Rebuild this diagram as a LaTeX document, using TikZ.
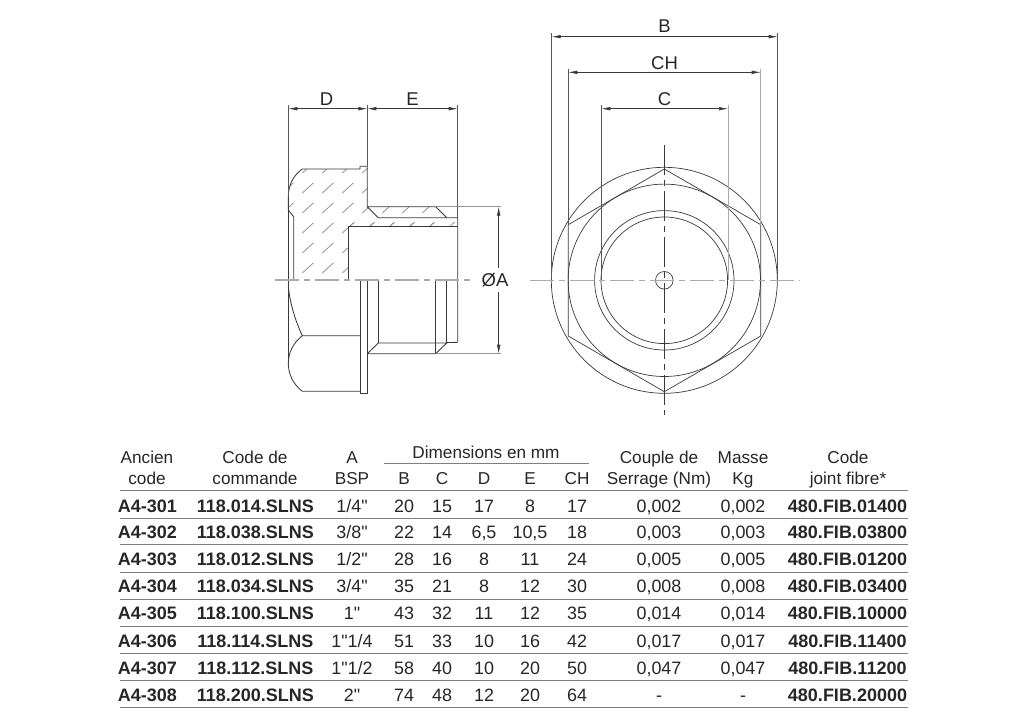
\documentclass[tikz,border=0pt]{standalone}
\usepackage{fontspec}
\setmainfont[Mapping=]{Liberation Sans}
\usetikzlibrary{arrows.meta}
\definecolor{ink}{HTML}{3A3A3A}
\definecolor{axisgray}{HTML}{ABABAB}
\definecolor{hatchgray}{HTML}{8C8C8C}
\tikzset{
  part/.style={draw=ink,line width=0.85pt},
  thin part/.style={draw=ink,line width=0.7pt},
  extline/.style={draw=ink!85,line width=0.6pt},
  dimline/.style={draw=ink,line width=0.6pt,{Latex[length=9pt,width=3.6pt]}-{Latex[length=9pt,width=3.6pt]}},
  arrowline/.style={draw=ink,line width=0.6pt,-{Latex[length=9pt,width=3.6pt]}},
  axisline/.style={draw=axisgray,line width=1.1pt,dash pattern=on 24pt off 5pt on 6pt off 5pt},
  vaxis/.style={draw=ink,line width=0.6pt,dash pattern=on 30pt off 5pt on 6pt off 5pt},
  hatchline/.style={draw=hatchgray,line width=0.75pt},
  txt/.style={font=\fontsize{17.2}{17.2}\selectfont,text=black!85,inner sep=0pt,anchor=base},
  numtxt/.style={font=\fontsize{17.9}{17.9}\selectfont,text=black!85,inner sep=0pt,anchor=base},
  dimlabel/.style={font=\fontsize{18.5}{18.5}\selectfont,text=black!85,inner sep=0pt,anchor=base},
  btxt/.style={font=\fontsize{18}{18}\selectfont\bfseries,text=black!85,inner sep=0pt,anchor=base},
  rowrule/.style={draw=ink!65,line width=1pt},
}
\newcommand\rowleft[9]{%
  \node[btxt] (a#2) at (147.5,#1) {A4-#2};
  \node[btxt] (b#2) at (255.3,#1) {#3};
  \node[numtxt] (c#2) at (352,#1) {#4};
  \node[numtxt] (d#2) at (404,#1) {#5};
  \node[numtxt] (e#2) at (442,#1) {#6};
  \node[numtxt] (f#2) at (484,#1) {#7};
  \node[numtxt] (g#2) at (530,#1) {#8};
  \node[numtxt] (h#2) at (577,#1) {#9};
}
\newcommand\rowright[5]{%
  \node[numtxt] (i#2) at (659,#1) {#3};
  \node[numtxt] (j#2) at (743,#1) {#4};
  \node[btxt] (k#2) at (847.5,#1) {#5};
}
\newcommand\qt{\char34 }
\begin{document}
\begin{tikzpicture}[x=1pt,y=-1pt]
\useasboundingbox (0,0) rectangle (1024,724);
% ---- section view: hatching
\begin{scope}
\clip (302.3,169) -- (360,169) -- (360,166.3) -- (367.3,166.3) -- (367.3,206.7) -- (435.7,206.7) -- (446.7,217.7) -- (457.7,217.7) -- (457.7,226.7) -- (348.3,226.7) -- (348.3,280) -- (293.7,280) -- (293.7,216.7) -- (288.3,210) -- (288.3,197) .. controls (288.3,184) and (294,175) .. (302.3,169) -- cycle;
\foreach \r in {173,193,213,233,253,273}
  \foreach \c in {282.3,302.3,322.3,342.3,362.3,382.3,402.3,422.3}
    \draw[hatchline] (\c,\r) -- ++(11,-10);
\foreach \c in {349.5,369.5,389.5,409.5,429.5,449.5}
  \draw[hatchline] (\c,226.7) -- ++(5,-4.6);
\end{scope}
% ---- section view: outline (upper half)
\draw[part] (293.7,280) -- (293.7,216.7) -- (288.3,210) -- (288.3,197) .. controls (288.3,184) and (294,175) .. (302.3,169) -- (360,169) -- (360,166.3) -- (367.3,166.3) -- (367.3,206.7) -- (435.7,206.7) -- (446.7,217.7) -- (457.7,217.7) -- (457.7,342.3);
\draw[part] (367.3,206.7) -- (378.3,217.7) -- (446.7,217.7);
\draw[part] (348.3,280) -- (348.3,226.7) -- (457.7,226.7);
% ---- lower half
\draw[part] (288.3,197) -- (288.3,363.3);
\draw[part] (288.3,286.7) .. controls (290,303) and (295,320) .. (302.3,335.7) -- (360,335.7);
\draw[part] (302.3,335.7) .. controls (293,343) and (288.3,353) .. (288.3,363.3) .. controls (288.3,374) and (293,384) .. (302.3,391.3) -- (360,391.3);
\draw[part] (367.3,280) -- (360,280) -- (360,393.7) -- (367.3,393.7) -- (367.3,280);
\draw[part] (378.3,280) -- (378.3,343);
\draw[part] (435.7,280) -- (435.7,353.7);
\draw[part] (446.7,280) -- (446.7,343);
\draw[part] (367.3,353.7) -- (435.7,353.7) -- (446.7,343) -- (378.3,343) -- (367.3,353.7);
\draw[part] (446.7,342.6) -- (457.7,342.3);
% ---- section view: axis
\draw[axisline] (275,280) -- (470.7,280);
% ---- section view: dimensions
\coordinate (dL) at (288.3,108.7);
\coordinate (dM) at (367.3,108.7);
\coordinate (dR) at (457.7,108.7);
\draw[extline] (288.3,105) -- (288.3,197);
\draw[extline] (367.3,105) -- (367.3,166.3);
\draw[extline] (457.7,105) -- (457.7,217.7);
\draw[dimline] (dL) -- (dM);
\draw[dimline] (dM) -- (dR);
\node[dimlabel] (lblD) at (326.5,105) {D};
\node[dimlabel] (lblE) at (412.5,105) {E};
% diameter A
\coordinate (aT) at (498.7,206.7);
\coordinate (aB) at (498.7,353.7);
\draw[extline,draw=axisgray!80!ink] (435.7,206.7) -- (500.5,206.7);
\draw[extline,draw=axisgray!80!ink] (435.7,353.7) -- (500.5,353.7);
\draw[arrowline] (498.7,268) -- (aT);
\draw[arrowline] (498.7,292) -- (aB);
\node[dimlabel] (lblA) at (495,286.7) {ØA};
% ---- end view
\coordinate (ctr) at (664.3,280.3);
\draw[thin part] (ctr) circle[radius=113];
\draw[thin part] (ctr) circle[radius=96.2];
\draw[thin part] (ctr) circle[radius=69.7];
\draw[thin part] (ctr) circle[radius=63.3];
\draw[thin part] (ctr) circle[radius=8.8];
\draw[thin part] (664.3,169) -- (760.7,224.7) -- (760.7,336) -- (664.3,391.7) -- (568.3,336) -- (568.3,224.7) -- cycle;
\draw[axisline] (530,280.3) -- (800,280.3);
\draw[vaxis] (664.3,145) -- (664.3,415);
% ---- end view: dimensions
\draw[extline] (551.7,33) -- (551.7,280);
\draw[extline] (777.7,33) -- (777.7,280);
\draw[extline] (568.3,69) -- (568.3,224.7);
\draw[extline,draw=axisgray,line width=1pt] (760.7,69) -- (760.7,224.7);
\draw[extline] (601.3,105) -- (601.3,280);
\draw[extline,draw=axisgray,line width=1pt] (728,105) -- (728,280);
\draw[dimline] (551.7,36.7) -- (777.7,36.7);
\draw[dimline] (568.3,72.3) -- (760.7,72.3);
\draw[dimline] (601.3,108.7) -- (728,108.7);
\node[dimlabel] (lblB) at (664.5,32.7) {B};
\node[dimlabel] (lblCH) at (664.5,69.3) {CH};
\node[dimlabel] (lblC) at (664.5,105.5) {C};
% ---- table header
\node[txt] (h1a) at (147,463) {Ancien};
\node[txt] (h1b) at (147,484) {code};
\node[txt] (h2a) at (255,463) {Code de};
\node[txt] (h2b) at (255,484) {commande};
\node[txt] (h3a) at (352,463) {A};
\node[txt] (h3b) at (352,484) {BSP};
\node[txt] (hdim) at (486,458) {Dimensions en mm};
\draw[rowrule] (384,463.3) -- (589,463.3);
\node[txt] (hB) at (404,484) {B};
\node[txt] (hC) at (442,484) {C};
\node[txt] (hD) at (484,484) {D};
\node[txt] (hE) at (530,484) {E};
\node[txt] (hCH) at (577,484) {CH};
\node[txt] (h9a) at (659,463) {Couple de};
\node[txt] (h9b) at (659,484) {Serrage (Nm)};
\node[txt] (h10a) at (743,463) {Masse};
\node[txt] (h10b) at (743,484) {Kg};
\node[txt] (h11a) at (848,463) {Code};
\node[txt] (h11b) at (848,484) {joint fibre*};
% ---- table rows
\rowleft{512.7}{301}{118.014.SLNS}{1/4\qt}{20}{15}{17}{8}{17}
\rowright{512.7}{301}{0,002}{0,002}{480.FIB.01400}
\rowleft{538.6}{302}{118.038.SLNS}{3/8\qt}{22}{14}{6,5}{10,5}{18}
\rowright{538.6}{302}{0,003}{0,003}{480.FIB.03800}
\rowleft{565.7}{303}{118.012.SLNS}{1/2\qt}{28}{16}{8}{11}{24}
\rowright{565.7}{303}{0,005}{0,005}{480.FIB.01200}
\rowleft{592.3}{304}{118.034.SLNS}{3/4\qt}{35}{21}{8}{12}{30}
\rowright{592.3}{304}{0,008}{0,008}{480.FIB.03400}
\rowleft{619.3}{305}{118.100.SLNS}{1\qt}{43}{32}{11}{12}{35}
\rowright{619.3}{305}{0,014}{0,014}{480.FIB.10000}
\rowleft{647.3}{306}{118.114.SLNS}{1\qt 1/4}{51}{33}{10}{16}{42}
\rowright{647.3}{306}{0,017}{0,017}{480.FIB.11400}
\rowleft{674}{307}{118.112.SLNS}{1\qt 1/2}{58}{40}{10}{20}{50}
\rowright{674}{307}{0,047}{0,047}{480.FIB.11200}
\rowleft{701}{308}{118.200.SLNS}{2\qt}{74}{48}{12}{20}{64}
\rowright{701}{308}{-}{-}{480.FIB.20000}
\foreach \y in {490,518.5,544.3,572.3,599.3,626,653.3,680,707.7}
  \draw[rowrule] (120,\y) -- (907.7,\y);
\end{tikzpicture}
\end{document}
